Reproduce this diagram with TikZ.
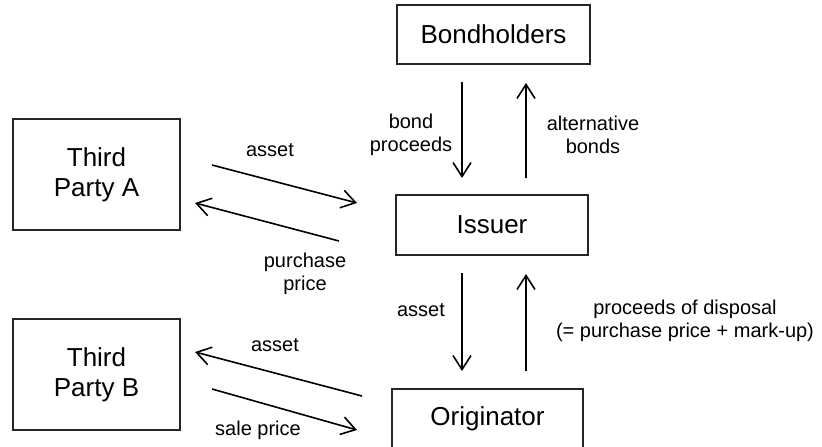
\documentclass[tikz,border=0pt]{standalone}
\usepackage{fontspec}
\setmainfont{Liberation Sans}
\usetikzlibrary{arrows.meta}
\begin{document}
\begin{tikzpicture}[x=1pt,y=-1pt,
  party/.style={draw=black!85,line width=1.1pt,rectangle,inner sep=0pt,
    align=center,font=\fontsize{26}{30}\selectfont},
  flow/.style={draw=black,line width=1.6pt,
    -{Straight Barb[length=14pt,width=18pt,line width=1.6pt]}},
  lbl/.style={align=center,inner sep=0pt,font=\fontsize{20}{23.5}\selectfont}]
\useasboundingbox (0,0) rectangle (822,447);
\clip (0,0) rectangle (822,447);

% parties
\node[party,minimum width=193pt,minimum height=59pt] (bond) at (493.5,34.5) {Bondholders};
\node[party,minimum width=192pt,minimum height=60pt] (iss) at (492,225) {Issuer};
\node[party,minimum width=191pt,minimum height=60pt] (orig) at (487.5,419) {Originator};
\node[party,minimum width=167pt,minimum height=111pt] (tpa) at (96.5,174.5) {Third\\Party A};
\node[party,minimum width=167pt,minimum height=111pt] (tpb) at (96.5,374.5) {Third\\Party B};

% connector end points
\coordinate (bpS) at (462,82);   \coordinate (bpE) at (462,178);
\coordinate (abS) at (526,178);  \coordinate (abE) at (526,83);
\coordinate (iaS) at (462,273);  \coordinate (iaE) at (462,371);
\coordinate (pdS) at (526,371);  \coordinate (pdE) at (526,274);
\coordinate (aaS) at (212,165);  \coordinate (aaE) at (357,203);
\coordinate (ppS) at (339,241);  \coordinate (ppE) at (195,203);
\coordinate (abS2) at (362,396); \coordinate (abE2) at (195,352);
\coordinate (spS) at (212,389);  \coordinate (spE) at (357,430);

% flows
\draw[flow] (bpS) -- (bpE);
\draw[flow] (abS) -- (abE);
\draw[flow] (iaS) -- (iaE);
\draw[flow] (pdS) -- (pdE);
\draw[flow] (aaS) -- (aaE);
\draw[flow] (ppS) -- (ppE);
\draw[flow] (abS2) -- (abE2);
\draw[flow] (spS) -- (spE);

% flow labels
\node[lbl] (l1) at (411,135) {bond\\proceeds};
\node[lbl] (l2) at (593,135) {alternative\\bonds};
\node[lbl] (l3) at (270,150) {asset};
\node[lbl] (l4) at (305,274) {purchase\\price};
\node[lbl] (l5) at (421,310) {asset};
\node[lbl] (l6) at (685,321) {proceeds of disposal\\(= purchase price + mark-up)};
\node[lbl] (l7) at (275,345) {asset};
\node[lbl] (l8) at (258,430) {sale price};
\end{tikzpicture}
\end{document}
